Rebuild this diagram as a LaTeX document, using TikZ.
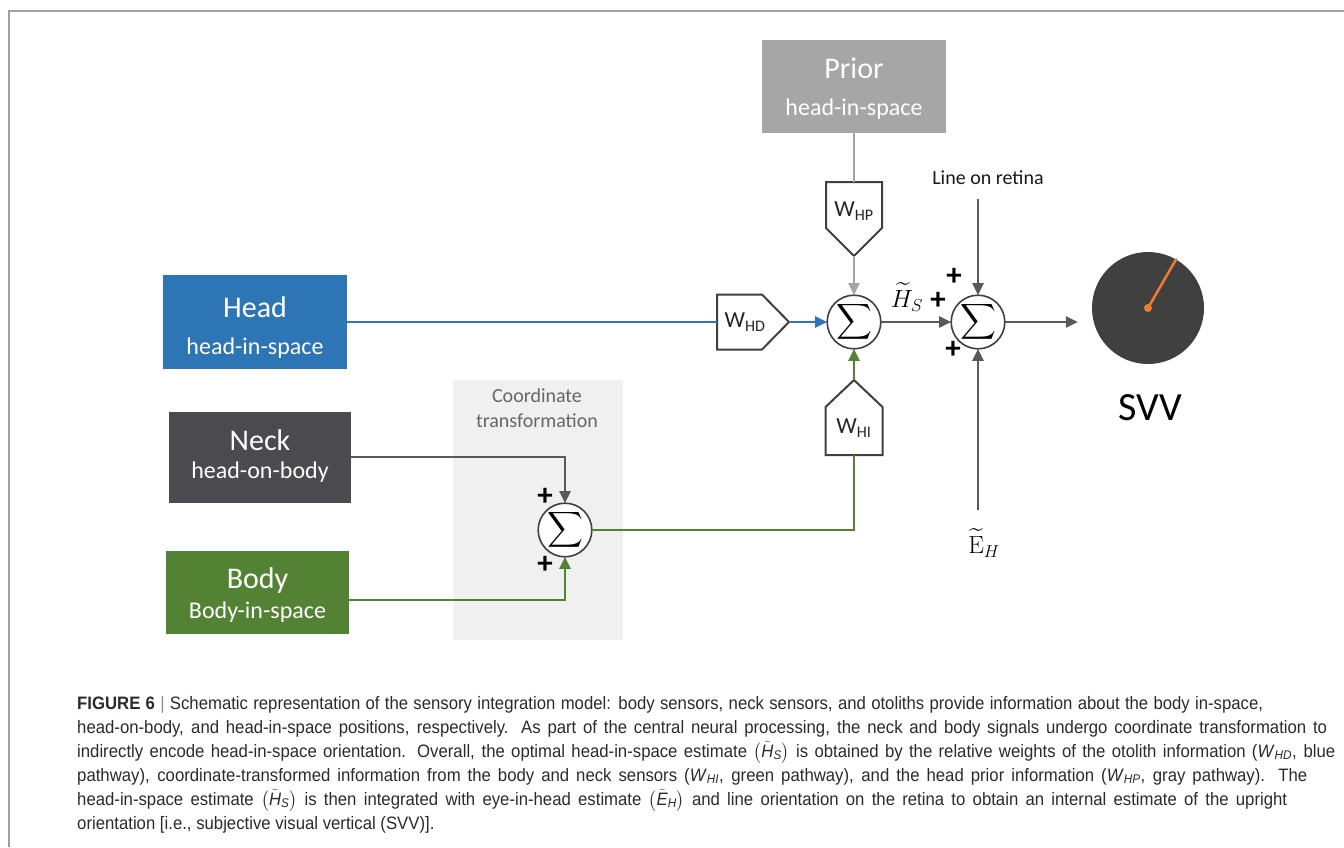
\documentclass[tikz,border=0pt]{standalone}
\usepackage{amsmath}
\usepackage[no-math]{fontspec}
\setmainfont{Carlito}
\newfontfamily\capfont[FakeStretch=0.93]{Liberation Sans}
\usetikzlibrary{arrows.meta,calc}
\definecolor{cblue}{HTML}{2E75B6}
\definecolor{cgreen}{HTML}{548235}
\definecolor{cdark}{HTML}{4A4A4F}
\definecolor{cline}{HTML}{595959}
\definecolor{cprior}{HTML}{A6A6A6}
\definecolor{cbg}{HTML}{F0F0F0}
\definecolor{corange}{HTML}{ED7D31}
\definecolor{csvv}{HTML}{404040}
\definecolor{ctext}{HTML}{2B2B2B}
\definecolor{cframe}{HTML}{A0A0A0}
\newcommand{\capHs}{\smash{\(\bigl(\tilde{\text{\itshape H}}_{\text{\itshape S}}\bigr)\)}}
\newcommand{\capEh}{\smash{\(\bigl(\tilde{\text{\itshape E}}_{\text{\itshape H}}\bigr)\)}}
\newcommand{\capW}[1]{\textit{W}\textsubscript{\textit{#1}}}
\newcommand{\fitline}[2]{\makebox[#1][s]{#2}}
\begin{document}
\begin{tikzpicture}[x=1pt,y=-1pt,
  srcbox/.style={rectangle,inner sep=0pt,outer sep=0pt},
  ttl/.style={text=white,anchor=base,inner sep=0pt,font=\fontsize{30}{30}\selectfont},
  sub/.style={text=white,anchor=base,inner sep=0pt,font=\fontsize{24}{24}\selectfont},
  wbox/.style={rectangle,inner sep=0pt,outer sep=0pt},
  wpent/.style={draw=csvv,line width=2pt,fill=white,line join=miter},
  wtxt/.style={inner sep=0pt,font=\fontsize{23}{23}\selectfont,text=black!85},
  sumnode/.style={circle,draw=csvv,line width=1.6pt,fill=white,minimum size=50pt,inner sep=0pt,outer sep=0pt,font=\fontsize{23}{23}\selectfont},
  conn/.style={line width=2.5pt},
  arr/.style={conn,-{Triangle[length=12pt,width=11pt]}},
  plus/.style={inner sep=0pt,font=\fontsize{31}{31}\selectfont\bfseries,text=black},
  capline/.style={anchor=base west,inner sep=0pt,text=ctext,font=\capfont\fontsize{18}{24}\selectfont}
]
\useasboundingbox (0,0) rectangle (1344,847);
\fill[white] (0,0) rectangle (1344,847);
\draw[cframe,line width=2pt] (9,847) -- (9,11) -- (1344,11);

% coordinate transformation background
\node[srcbox,fill=cbg,minimum width=170pt,minimum height=260pt] (ctbg) at (538,510) {};
\node[inner sep=0pt,text=black!60,font=\fontsize{20}{20}\selectfont] (ct1) at (537,396) {Coordinate};
\node[inner sep=0pt,text=black!60,font=\fontsize{20}{20}\selectfont] (ct2) at (537,421) {transformation};

% source boxes
\node[srcbox,fill=cprior,minimum width=184pt,minimum height=93pt] (prior) at (854,86.5) {};
\node[ttl] (priort) at (854,78) {Prior};
\node[sub] (priors) at (854,115) {head-in-space};

\node[srcbox,fill=cblue,minimum width=184pt,minimum height=94pt] (head) at (255,322) {};
\node[ttl] (headt) at (255,317) {Head};
\node[sub] (heads) at (255,354) {head-in-space};

\node[srcbox,fill=cdark,minimum width=182pt,minimum height=91pt] (neck) at (260,457) {};
\node[ttl] (neckt) at (260,450) {Neck};
\node[sub] (necks) at (260,478) {head-on-body};

\node[srcbox,fill=cgreen,minimum width=183pt,minimum height=83pt] (body) at (257.5,592.5) {};
\node[ttl] (bodyt) at (257.5,588) {Body};
\node[sub] (bodys) at (257.5,618) {Body-in-space};

% sums
\node[sumnode] (sum1) at (854,322) {$\displaystyle\sum$};
\node[sumnode] (sum2) at (565,530) {$\displaystyle\sum$};
\node[sumnode] (sum3) at (978,322) {$\displaystyle\sum$};

% weight pentagons
\node[wbox,minimum width=72pt,minimum height=55pt] (whd) at (753,322) {};
\draw[wpent] (whd.north west) -- ([xshift=-27pt]whd.north east) -- (whd.east) -- ([xshift=-27pt]whd.south east) -- (whd.south west) -- cycle;
\node[wtxt] (whdt) at (745,322) {W\textsubscript{HD}};

\node[wbox,minimum width=56pt,minimum height=74pt] (whp) at (854,219) {};
\draw[wpent] (whp.north west) -- (whp.north east) -- ([yshift=28pt]whp.south east) -- (whp.south) -- ([yshift=28pt]whp.south west) -- cycle;
\node[wtxt] (whpt) at (854,211) {W\textsubscript{HP}};

\node[wbox,minimum width=57pt,minimum height=75pt] (whi) at (854,417.5) {};
\draw[wpent] (whi.south west) -- (whi.south east) -- ([yshift=-27pt]whi.north east) -- (whi.north) -- ([yshift=-27pt]whi.north west) -- cycle;
\node[wtxt] (whit) at (854,428) {W\textsubscript{HI}};

% SVV
\node[circle,fill=csvv,minimum size=112pt,inner sep=0pt] (svv) at (1148,308) {};
\draw[corange,line width=2.5pt,line cap=round] (svv.center) -- (svv.60);
\fill[corange] (svv.center) circle (4pt);
\node[inner sep=0pt,font=\fontsize{40}{40}\selectfont,text=black] (svvt) at (1150,408) {SVV};

% other labels
\node[inner sep=0pt,font=\fontsize{20}{20}\selectfont,text=black!90] (lor) at (988,178) {Line on retina};
\coordinate (lortop) at (978,199);
\node[inner sep=0pt,font=\fontsize{24}{24}\selectfont] (eh) at (984,543) {$\widetilde{\mathrm{E}}_H$};
\coordinate (ehtop) at (978,510);
\node[inner sep=0pt,font=\fontsize{24}{24}\selectfont] (hs) at (907,297) {$\widetilde{H}_S$};

% plus signs
\node[plus] (p1) at (545,497) {+};
\node[plus] (p2) at (545,565) {+};
\node[plus] (p3) at (954,277) {+};
\node[plus] (p4) at (938,301) {+};
\node[plus] (p5) at (953,350) {+};

% connectors
\draw[conn,cprior] (prior.south) -- (whp.north);
\draw[arr,cprior] (whp.south) -- (sum1.north);
\draw[conn,cblue] (head.east) -- (whd.west);
\draw[arr,cblue] (whd.east) -- (sum1.west);
\draw[arr,cline] (neck.east) -| (sum2.north);
\draw[arr,cgreen] ([yshift=-7.5pt]body.east) -| (sum2.south);
\draw[conn,cgreen] (sum2.east) -| (whi.south);
\draw[arr,cgreen] (whi.north) -- (sum1.south);
\draw[arr,cline] (sum1.east) -- (sum3.west);
\draw[arr,cline] (lortop) -- (sum3.north);
\draw[arr,cline] (ehtop) -- (sum3.south);
\draw[arr,cline,shorten >=14pt] (sum3.east) -- (sum3.east -| svv.west);

% caption
\node[capline] (c1) at (77,709) {\fitline{1186pt}{\textbf{FIGURE 6} {\color{black!45}|} Schematic representation of the sensory integration model: body sensors, neck sensors, and otoliths provide information about the body in-space,}};
\node[capline] (c2) at (77,733) {\fitline{1250pt}{head-on-body, and head-in-space positions, respectively. As part of the central neural processing, the neck and body signals undergo coordinate transformation to}};
\node[capline] (c3) at (77,757) {\fitline{1258pt}{indirectly encode head-in-space orientation. Overall, the optimal head-in-space estimate \capHs{} is obtained by the relative weights of the otolith information (\capW{HD}, blue}};
\node[capline] (c4) at (77,781) {\fitline{1230pt}{pathway), coordinate-transformed information from the body and neck sensors (\capW{HI}, green pathway), and the head prior information (\capW{HP}, gray pathway). The}};
\node[capline] (c5) at (77,805) {\fitline{1210pt}{head-in-space estimate \capHs{} is then integrated with eye-in-head estimate \capEh{} and line orientation on the retina to obtain an internal estimate of the upright}};
\node[capline] (c6) at (77,829) {orientation [i.e., subjective visual vertical (SVV)].};
\end{tikzpicture}
\end{document}
